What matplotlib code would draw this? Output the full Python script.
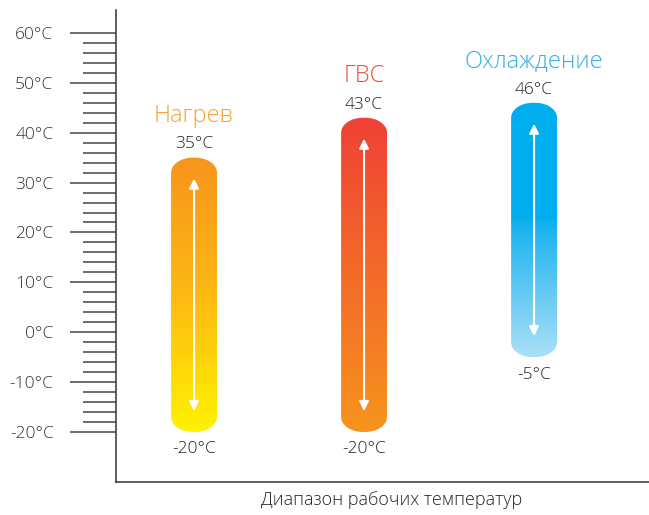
import numpy as np
import matplotlib
matplotlib.use("Agg")
import matplotlib.pyplot as plt
from matplotlib.colors import LinearSegmentedColormap
from matplotlib.path import Path
from matplotlib.patches import PathPatch

plt.rcParams["font.family"] = ["Open Sans", "DejaVu Sans"]
plt.rcParams["font.weight"] = "light"

# данные
categories = ["Нагрев", "ГВС", "Охлаждение"]
t_high = [35, 43, 46]
t_low = [-20, -20, -5]
name_colors = ["#F8A034", "#EF4B40", "#35AEE2"]
gradients = [
    [(0.0, "#FFF200"), (0.5, "#FDB913"), (1.0, "#F7941D")],
    [(0.0, "#F7941D"), (1.0, "#EF4136")],
    [(0.0, "#ABDFF8"), (0.5, "#1DB5EE"), (0.55, "#00AEEF"), (1.0, "#00AEEF")],
]
major_ticks = list(range(-20, 61, 10))
minor_ticks = [t for t in range(-20, 61, 2) if t % 10 != 0]
tick_labels = [f"{t}°C" for t in major_ticks]

fig = plt.figure(figsize=(6.49, 5.15), dpi=100)
ax = fig.add_axes([116 / 649, 33 / 515, 533 / 649, 472 / 515])
ax.set_xlim(-0.459, 2.676)
ax.set_ylim(-30.03, 64.6)

for s in ["top", "right"]:
    ax.spines[s].set_visible(False)
for s in ["left", "bottom"]:
    ax.spines[s].set_linewidth(1.1)
    ax.spines[s].set_color("#333333")

ax.set_xticks([])
ax.set_yticks(major_ticks)
ax.set_yticklabels(tick_labels)
ax.set_yticks(minor_ticks, minor=True)
ax.tick_params(axis="y", which="major", length=33, width=1.1, color="#444444",
               pad=12, labelsize=12.5, labelcolor="#333333")
ax.tick_params(axis="y", which="minor", length=24, width=1.1, color="#444444")


def rounded_bar(x0, x1, y0, y1, ry):
    rx = (x1 - x0) / 2 * 0.95
    k = 0.5523
    verts = [
        (x0, y0 + ry), (x0, y1 - ry),
        (x0, y1 - ry + k * ry), (x0 + rx - k * rx, y1), (x0 + rx, y1),
        (x1 - rx, y1),
        (x1 - rx + k * rx, y1), (x1, y1 - ry + k * ry), (x1, y1 - ry),
        (x1, y0 + ry),
        (x1, y0 + ry - k * ry), (x1 - rx + k * rx, y0), (x1 - rx, y0),
        (x0 + rx, y0),
        (x0 + rx - k * rx, y0), (x0, y0 + ry - k * ry), (x0, y0 + ry),
        (x0, y0 + ry),
    ]
    codes = [Path.MOVETO, Path.LINETO,
             Path.CURVE4, Path.CURVE4, Path.CURVE4,
             Path.LINETO,
             Path.CURVE4, Path.CURVE4, Path.CURVE4,
             Path.LINETO,
             Path.CURVE4, Path.CURVE4, Path.CURVE4,
             Path.LINETO,
             Path.CURVE4, Path.CURVE4, Path.CURVE4,
             Path.CLOSEPOLY]
    return Path(verts, codes)


width = 0.27
grad = np.linspace(0, 1, 256).reshape(-1, 1)
for i, name in enumerate(categories):
    lo, hi = t_low[i], t_high[i]
    x0, x1 = i - width / 2, i + width / 2
    patch = PathPatch(rounded_bar(x0, x1, lo, hi, 3.0), facecolor="none",
                      edgecolor="none")
    ax.add_patch(patch)
    cmap = LinearSegmentedColormap.from_list(f"g{i}", gradients[i])
    im = ax.imshow(grad, extent=[x0, x1, lo, hi], origin="lower", cmap=cmap,
                   aspect="auto", interpolation="bilinear", zorder=2)
    im.set_clip_path(patch)

    ax.annotate("", xy=(i, hi - 4.2), xytext=(i, lo + 4.2),
                arrowprops=dict(arrowstyle="<|-|>", color="white", lw=1.5,
                                mutation_scale=14, shrinkA=0, shrinkB=0),
                zorder=3)

    ax.annotate(f"{hi}°C", xy=(i, hi), xytext=(0, 9.5),
                textcoords="offset points", ha="center", va="center",
                fontsize=12.5, color="#222222")
    ax.annotate(name, xy=(i, hi), xytext=(0, 30),
                textcoords="offset points", ha="center", va="center",
                fontsize=17, color=name_colors[i])
    ax.annotate(f"{lo}°C", xy=(i, lo), xytext=(0, -12.5),
                textcoords="offset points", ha="center", va="center",
                fontsize=12.5, color="#222222")

fig.text(392 / 649, 1 - 500 / 515, "Диапазон рабочих температур",
         ha="center", va="center", fontsize=13, color="#222222")

fig.savefig("out.png", dpi=100)
